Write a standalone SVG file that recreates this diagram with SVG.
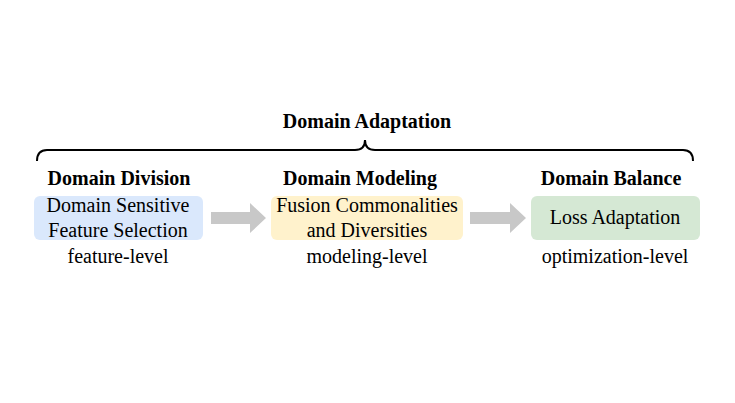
<svg xmlns="http://www.w3.org/2000/svg" width="735" height="403" viewBox="0 0 735 403">
<style>
text{font-size:20px;fill:#000;text-anchor:middle}
.b{font-weight:bold}
.arrow{fill:#c8c8c8}
</style>
<rect width="735" height="403" fill="#fff"/>
<g font-family="'Liberation Serif', 'DejaVu Serif', serif">
<g id="brace">
<path d="M37,161 Q37,150 47,150 L355,150 Q365,150 365,140 Q365,150 375,150 L683,150 Q693,150 693,161" fill="none" stroke="#000" stroke-width="2"/>
<text class="b" x="367" y="128">Domain Adaptation</text>
</g>
<g id="division">
<text class="b" x="119" y="185">Domain Division</text>
<rect x="34" y="196" width="169" height="44" rx="6" fill="#dae8fc"/>
<text x="118" y="212">Domain Sensitive</text>
<text x="118" y="237">Feature Selection</text>
<text x="118" y="263">feature-level</text>
</g>
<g id="modeling">
<text class="b" x="360" y="185">Domain Modeling</text>
<rect x="271" y="196" width="192" height="44" rx="6" fill="#fff2cc"/>
<text x="367" y="212">Fusion Commonalities</text>
<text x="367" y="237">and Diversities</text>
<text x="367" y="263">modeling-level</text>
</g>
<g id="balance">
<text class="b" x="611" y="185">Domain Balance</text>
<rect x="531" y="196" width="169" height="44" rx="6" fill="#d5e8d4"/>
<text x="615" y="224">Loss Adaptation</text>
<text x="615" y="263">optimization-level</text>
</g>
</g>
<g id="connectors">
<path class="arrow" d="M211,212 L250,212 L250,203 L266,218 L250,233 L250,224 L211,224 Z"/>
<path class="arrow" d="M470,212 L510,212 L510,203 L526,218 L510,233 L510,224 L470,224 Z"/>
</g>
</svg>
